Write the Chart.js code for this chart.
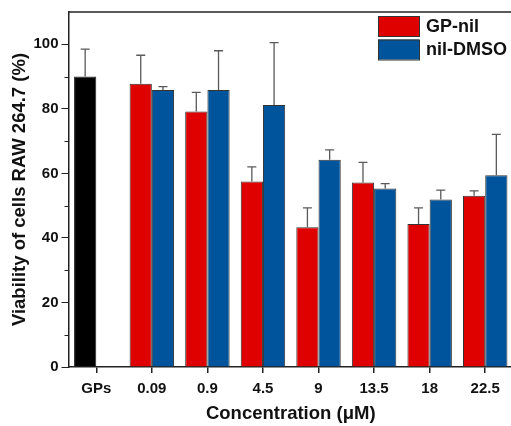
<!DOCTYPE html>
<html>
<head>
<meta charset="utf-8">
<script src="https://cdn.jsdelivr.net/npm/chart.js@4/dist/chart.umd.min.js"></script>
<style>
  html, body { margin: 0; padding: 0; background: #fff; overflow: hidden; }
  #wrap { width: 513px; height: 426px; }
</style>
</head>
<body>
<div id="wrap"><canvas id="myChart" width="513" height="426"></canvas></div>
<script>
const categories = ['GPs', '0.09', '0.9', '4.5', '9', '13.5', '18', '22.5'];

const gps     = [90, null, null, null, null, null, null, null];
const gpsErr  = [8.5, null, null, null, null, null, null, null];

const gpNil    = [null, 87.8, 79.2, 57.5, 43.3, 57.2, 44.3, 53.1];
const gpNilErr = [null, 8.8, 5.9, 4.5, 6.0, 6.2, 5.0, 1.5];

const nilDmso    = [null, 85.8, 85.8, 81.2, 64.2, 55.3, 51.9, 59.4];
const nilDmsoErr = [null, 1.1, 12.2, 19.3, 3.1, 1.5, 2.9, 12.7];

const yTicks = [0, 20, 40, 60, 80, 100];

const ctx = document.getElementById('myChart');
const font = "'Liberation Sans', Arial, sans-serif";

const errorBars = {
  id: 'errorBars',
  afterDatasetsDraw(chart) {
    const c = chart.ctx;
    const y = chart.scales.y;
    c.save();
    c.strokeStyle = '#5a5a5a';
    c.lineWidth = 1.3;
    chart.data.datasets.forEach((ds, i) => {
      const meta = chart.getDatasetMeta(i);
      meta.data.forEach((el, j) => {
        const v = ds.data[j], e = ds.err[j];
        if (v == null || e == null) return;
        const top = y.getPixelForValue(v + e);
        c.beginPath();
        c.moveTo(el.x, el.y);
        c.lineTo(el.x, top);
        c.moveTo(el.x - 4.5, top);
        c.lineTo(el.x + 4.5, top);
        c.stroke();
      });
    });
    c.restore();
  },
  afterDraw(chart) {
    const c = chart.ctx;
    const a = chart.chartArea;
    const y = chart.scales.y;
    c.save();
    // top frame line
    c.strokeStyle = '#222';
    c.lineWidth = 1.5;
    c.beginPath();
    c.moveTo(a.left, a.top);
    c.lineTo(a.right, a.top);
    c.stroke();
    // minor ticks
    c.lineWidth = 1;
    [10, 30, 50, 70, 90].forEach(v => {
      const py = Math.round(y.getPixelForValue(v)) + 0.5;
      c.beginPath();
      c.moveTo(a.left - 4, py);
      c.lineTo(a.left, py);
      c.stroke();
    });
    // legend inside plot
    const items = [chart.data.datasets[1], chart.data.datasets[2]];
    c.font = 'bold 18px ' + font;
    c.textBaseline = 'middle';
    items.forEach((ds, k) => {
      const bx = 378, by = 16 + k * 23.5;
      c.fillStyle = ds.backgroundColor;
      c.fillRect(bx, by, 41, 20);
      c.strokeStyle = '#333';
      c.lineWidth = 1;
      c.strokeRect(bx + 0.5, by + 0.5, 41, 20);
      c.fillStyle = '#111';
      c.fillText(ds.label, 426, by + 11);
    });
    c.restore();
  }
};

new Chart(ctx, {
  type: 'bar',
  data: {
    labels: categories,
    datasets: [
      { label: 'GPs', data: gps, err: gpsErr, stack: 's1',
        backgroundColor: '#000000', borderColor: '#222', borderWidth: 1 },
      { label: 'GP-nil', data: gpNil, err: gpNilErr, stack: 's1',
        backgroundColor: '#df0000', borderColor: '#333', borderWidth: 1 },
      { label: 'nil-DMSO', data: nilDmso, err: nilDmsoErr, stack: 's2',
        backgroundColor: '#00549c', borderColor: '#333', borderWidth: 1 }
    ]
  },
  plugins: [errorBars],
  options: {
    responsive: false,
    animation: false,
    layout: { padding: { top: 10, right: 0, left: 0, bottom: 0 } },
    plugins: {
      legend: { display: false },
      tooltip: { enabled: false }
    },
    datasets: { bar: { categoryPercentage: 0.8, barPercentage: 1.0 } },
    scales: {
      x: {
        grid: { offset: false, drawOnChartArea: false, color: '#222', tickLength: 6, lineWidth: 1.5 },
        border: { display: true, color: '#222', width: 1.5 },
        ticks: { color: '#111', padding: 7, font: { family: font, size: 15, weight: 'bold' } },
        title: { display: true, text: 'Concentration (μM)', color: '#111',
                 padding: { top: 9, bottom: 1 }, font: { family: font, size: 18.5, weight: 'bold' } },
        afterFit(s) { s.height = 59; }
      },
      y: {
        stacked: true,
        min: 0, max: 110,
        afterBuildTicks(s) { s.ticks = yTicks.map(v => ({ value: v })); },
        grid: { drawOnChartArea: false, color: '#222', tickLength: 7, lineWidth: 1 },
        border: { display: true, color: '#222', width: 1.5 },
        ticks: { color: '#111', padding: 3, font: { family: font, size: 15, weight: 'bold' } },
        title: { display: true, text: 'Viability of cells RAW 264.7 (%)', color: '#111',
                 padding: { bottom: 0, top: 9 }, font: { family: font, size: 18.5, weight: 'bold' } },
        afterFit(s) { s.width = 68.5; }
      }
    }
  }
});
</script>
</body>
</html>
